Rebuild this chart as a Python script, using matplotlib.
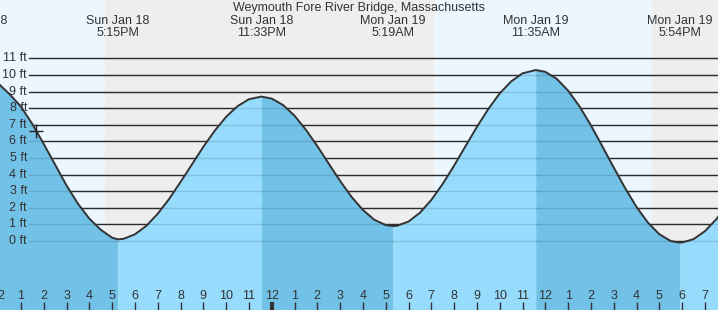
import matplotlib.pyplot as plt
import matplotlib.transforms as mtransforms
import numpy as np

plt.rcParams['font.family'] = ['Liberation Sans', 'DejaVu Sans']

title = "Weymouth Fore River Bridge, Massachusetts"

# hours counted from midnight Sun Jan 18
tide_hours = [12.0, 12.5, 13.0, 13.5, 14.0, 14.5, 15.0, 15.5, 16.0, 16.5, 17.0, 17.25,
              17.5, 18.0, 18.5, 19.0, 19.5, 20.0, 20.5, 21.0, 21.5, 22.0, 22.5, 23.0, 23.55,
              24.0, 24.5, 25.0, 25.5, 26.0, 26.5, 27.0, 27.5, 28.0, 28.5, 29.0, 29.32,
              29.5, 30.0, 30.5, 31.0, 31.5, 32.0, 32.5, 33.0, 33.5, 34.0, 34.5, 35.0, 35.58,
              36.0, 36.5, 37.0, 37.5, 38.0, 38.5, 39.0, 39.5, 40.0, 40.5, 41.0, 41.5, 41.9,
              42.0, 42.5, 43.0, 43.5, 44.0]
tide_ft = [9.5, 8.85, 8.1, 7.05, 5.85, 4.6, 3.35, 2.25, 1.35, 0.68, 0.2, 0.1,
           0.13, 0.40, 0.91, 1.64, 2.53, 3.55, 4.61, 5.67, 6.64, 7.48, 8.12, 8.54, 8.70,
           8.58, 8.19, 7.55, 6.70, 5.72, 4.66, 3.62, 2.66, 1.87, 1.28, 0.96, 0.90,
           0.92, 1.17, 1.70, 2.47, 3.44, 4.54, 5.71, 6.87, 7.95, 8.89, 9.61, 10.10, 10.30,
           10.19, 9.77, 9.06, 8.11, 6.97, 5.71, 4.43, 3.19, 2.05, 1.11, 0.41, 0.00, -0.10,
           -0.09, 0.11, 0.59, 1.31, 2.25]

# high / low tides
ext_hours = [11.0, 17.25, 23.55, 29.32, 35.58, 41.9]
ext_days = ["Sun Jan 18", "Sun Jan 18", "Sun Jan 18", "Mon Jan 19", "Mon Jan 19", "Mon Jan 19"]
ext_times = ["11:01AM", "5:15PM", "11:33PM", "5:19AM", "11:35AM", "5:54PM"]
ext_falling = [True, False, True, False, True, False]

# daylight / night
sun_events = [12.0, 16.68, 31.12, 40.68, 44.0]
sun_is_day = [True, False, True, False]

now_hour, now_ft = 13.66, 6.62

ft_levels = list(range(0, 12))
ft_labels = [f"{v} ft" for v in ft_levels]

tick_hours = list(range(12, 44))
tick_labels = ['12', '1', '2', '3', '4', '5', '6', '7', '8', '9', '10', '11',
               '12', '1', '2', '3', '4', '5', '6', '7', '8', '9', '10', '11',
               '12', '1', '2', '3', '4', '5', '6', '7']

W, H = 718, 310
px_per_hr = 22.8
px_per_ft = 16.6
x_left = 12 + 1.9 / px_per_hr
x_right = x_left + W / px_per_hr
y_top = 241 / px_per_ft
y_bottom = -(H - 241) / px_per_ft

fig = plt.figure(figsize=(W / 100, H / 100), dpi=100)
ax = fig.add_axes([0, 0, 1, 1])
ax.set_xlim(x_left, x_right)
ax.set_ylim(y_bottom, y_top)
ax.set_axis_off()

day_col, night_col = '#ebf6fe', '#eeeeee'
for i, day in enumerate(sun_is_day):
    ax.axvspan(sun_events[i], sun_events[i + 1], color=day_col if day else night_col,
               lw=0, zorder=0)

for lv in ft_levels:
    ax.axhline(lv, xmin=29.5 / W, xmax=1, color='#333333', lw=1, zorder=1)

t = np.array(tide_hours)
h = np.array(tide_ft)
bounds = ext_hours + [tide_hours[-1]]
for i, falling in enumerate(ext_falling):
    m = (t >= bounds[i]) & (t <= bounds[i + 1])
    ax.fill_between(t[m], h[m], y_bottom, color='#72c1e6' if falling else '#97dcfd',
                    lw=0, zorder=2)

for lv in ft_levels:
    ax.axhline(lv, xmin=29.5 / W, xmax=1, color='black', alpha=0.12, lw=1, zorder=3)

ax.plot(t, h, color='#333333', lw=1.4, zorder=4)
ax.plot(now_hour, now_ft, marker='+', ms=10, mew=1, color='#222222', zorder=5)

txt = '#333333'
fs = 9
ax.text(0.5, 1 - 11 / H, title, transform=ax.transAxes, ha='center', va='baseline',
        fontsize=fs, color=txt, zorder=6)

top = mtransforms.blended_transform_factory(ax.transData, ax.transAxes)
for hr, d, tm in zip(ext_hours, ext_days, ext_times):
    ax.text(hr, 1 - 24 / H, d, transform=top, ha='center', va='baseline',
            fontsize=fs, color=txt, zorder=6)
    ax.text(hr, 1 - 36 / H, tm, transform=top, ha='center', va='baseline',
            fontsize=fs, color=txt, zorder=6)

left = mtransforms.blended_transform_factory(ax.transAxes, ax.transData)
for lv, lab in zip(ft_levels, ft_labels):
    ax.text(27 / W, lv, lab, transform=left, ha='right', va='center',
            fontsize=fs, color=txt, zorder=6)

for hr, lab in zip(tick_hours, tick_labels):
    ax.text(hr, 10.7 / H, lab, transform=top, ha='center', va='baseline',
            fontsize=fs, color=txt, zorder=6)
    thick = lab == '12' and hr % 24 == 0
    ax.vlines(hr, 0, 8 / H, transform=top, color='#333333', lw=3 if thick else 1, zorder=6)

fig.savefig('out.png', dpi=100)
